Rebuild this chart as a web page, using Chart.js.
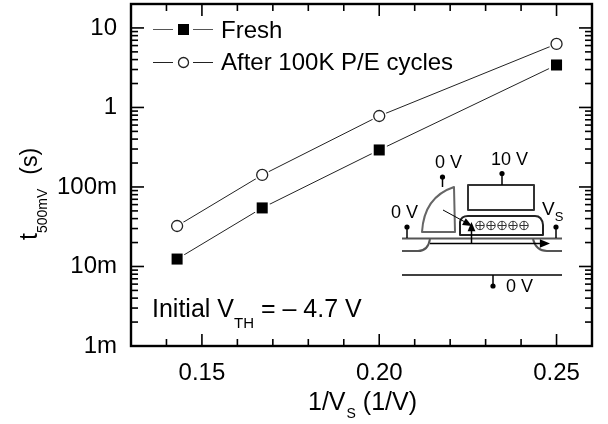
<!DOCTYPE html>
<html>
<head>
<meta charset="utf-8">
<style>
html,body{margin:0;padding:0;background:#fff;}
#wrap{position:relative;width:608px;height:424px;}
</style>
<script src="https://cdn.jsdelivr.net/npm/chart.js@4"></script>
</head>
<body>
<div id="wrap"><canvas id="chart" width="608" height="424"></canvas></div>
<script>
const invVs = [0.143, 0.167, 0.2, 0.25];
const fresh = [0.0124, 0.0545, 0.292, 3.42];
const cycled = [0.0323, 0.1416, 0.781, 6.29];
const xTicks = [0.15, 0.2, 0.25];
const xTickLabels = ["0.15", "0.20", "0.25"];
const xMinor = [0.14, 0.16, 0.17, 0.18, 0.19, 0.21, 0.22, 0.23, 0.24];
const yTicks = [0.001, 0.01, 0.1, 1, 10];
const yTickLabels = ["1m", "10m", "100m", "1", "10"];
const yMinorSteps = [2, 3, 4, 5, 6, 7, 8, 9];
const seriesNames = ["Fresh", "After 100K P/E cycles"];

const FONT = '"Liberation Sans", Arial, sans-serif';
const INK = "#000";
const PLOT_TOP = 4;

function pts(ys) {
  return invVs.map((x, i) => ({x: x, y: ys[i]}));
}

function txt(ctx, s, x, y, size, align) {
  ctx.font = size + "px " + FONT;
  ctx.textAlign = align || "left";
  ctx.textBaseline = "alphabetic";
  ctx.fillStyle = INK;
  ctx.fillText(s, x, y);
  return ctx.measureText(s).width;
}

function seg(ctx, x1, y1, x2, y2) {
  ctx.beginPath();
  ctx.moveTo(x1, y1);
  ctx.lineTo(x2, y2);
  ctx.stroke();
}

function pin(ctx, x, y1, y2) {
  ctx.strokeStyle = INK;
  ctx.lineWidth = 1.5;
  seg(ctx, x, y1, x, y2);
  ctx.fillStyle = INK;
  ctx.beginPath();
  ctx.arc(x, y1, 2.6, 0, Math.PI * 2);
  ctx.fill();
}

function arrowHead(ctx, x, y, ang, len) {
  ctx.fillStyle = INK;
  ctx.beginPath();
  ctx.moveTo(x, y);
  ctx.lineTo(x - len * Math.cos(ang - 0.4), y - len * Math.sin(ang - 0.4));
  ctx.lineTo(x - len * Math.cos(ang + 0.4), y - len * Math.sin(ang + 0.4));
  ctx.closePath();
  ctx.fill();
}

// layout keeps some room above the y scale, take it back
const plotTop = {
  id: "plotTop",
  afterLayout(chart) {
    const ys = chart.scales.y;
    const a = chart.chartArea;
    ys.top = PLOT_TOP;
    ys.height = ys.bottom - PLOT_TOP;
    ys.configure();
    a.top = PLOT_TOP;
    a.height = a.bottom - PLOT_TOP;
  }
};

// frame and the inward tick marks, all placed with the chart's scales
const frameTicks = {
  id: "frameTicks",
  afterDraw(chart) {
    const ctx = chart.ctx;
    const a = chart.chartArea;
    const xs = chart.scales.x;
    const ys = chart.scales.y;
    ctx.save();
    ctx.strokeStyle = INK;
    ctx.lineWidth = 2.4;
    ctx.strokeRect(a.left, a.top, a.right - a.left, a.bottom - a.top);
    ctx.lineWidth = 1.6;
    xTicks.forEach(v => {
      const p = xs.getPixelForValue(v);
      seg(ctx, p, a.bottom, p, a.bottom - 12);
      seg(ctx, p, a.top, p, a.top + 12);
    });
    xMinor.forEach(v => {
      const p = xs.getPixelForValue(v);
      seg(ctx, p, a.bottom, p, a.bottom - 7);
      seg(ctx, p, a.top, p, a.top + 7);
    });
    yTicks.forEach(v => {
      const p = ys.getPixelForValue(v);
      seg(ctx, a.left, p, a.left + 13, p);
      seg(ctx, a.right, p, a.right - 13, p);
    });
    yTicks.forEach(d => yMinorSteps.forEach(m => {
      if (d * m <= ys.max) {
        const p = ys.getPixelForValue(d * m);
        seg(ctx, a.left, p, a.left + 7, p);
        seg(ctx, a.right, p, a.right - 7, p);
      }
    }));
    ctx.restore();
  }
};

// legend, axis titles with subscripts, note and the device sketch
const extras = {
  id: "extras",
  afterDraw(chart) {
    const ctx = chart.ctx;
    ctx.save();

    // legend
    ctx.strokeStyle = "#555";
    ctx.lineWidth = 1;
    seg(ctx, 153, 29.5, 173, 29.5);
    seg(ctx, 193, 29.5, 213, 29.5);
    ctx.strokeStyle = "#222";
    seg(ctx, 153, 62.5, 173, 62.5);
    seg(ctx, 193, 62.5, 213, 62.5);
    ctx.fillStyle = "#000";
    ctx.fillRect(178, 24, 11, 11);
    ctx.strokeStyle = "#222";
    ctx.lineWidth = 1.3;
    ctx.beginPath();
    ctx.arc(183.5, 62.5, 5, 0, Math.PI * 2);
    ctx.stroke();
    txt(ctx, seriesNames[0], 221, 38, 24);
    txt(ctx, seriesNames[1], 221, 70, 24);

    // note
    let nx = 152;
    nx += txt(ctx, "Initial V", nx, 317, 25);
    nx += txt(ctx, "TH", nx, 328, 15);
    txt(ctx, " = – 4.7 V", nx, 317, 25);

    // x title
    let tx = 308;
    tx += txt(ctx, "1/V", tx, 410, 25);
    tx += txt(ctx, "S", tx + 1, 418, 14) + 1;
    txt(ctx, " (1/V)", tx, 410, 25);

    // y title
    ctx.save();
    ctx.translate(37, 240);
    ctx.rotate(-Math.PI / 2);
    let ty = 0;
    ty += txt(ctx, "t", ty, 0, 25);
    ty += txt(ctx, "500mV", ty, 10, 14);
    txt(ctx, "(s)", ty + 14, 0, 23);
    ctx.restore();

    // device sketch
    ctx.lineJoin = "round";
    ctx.strokeStyle = "#666";
    ctx.lineWidth = 2;
    ctx.beginPath();
    ctx.moveTo(422, 232);
    ctx.quadraticCurveTo(424, 197, 454, 187);
    ctx.lineTo(455, 232);
    ctx.closePath();
    ctx.stroke();
    ctx.strokeStyle = "#333";
    ctx.strokeRect(468, 185, 66, 25);

    ctx.strokeStyle = "#222";
    ctx.lineWidth = 2;
    ctx.beginPath();
    ctx.moveTo(460, 235);
    ctx.lineTo(460, 222);
    ctx.quadraticCurveTo(461, 216, 468, 216);
    ctx.lineTo(535, 216);
    ctx.quadraticCurveTo(542, 216, 543, 225);
    ctx.lineTo(543, 235);
    ctx.closePath();
    ctx.stroke();

    ctx.strokeStyle = "#333";
    ctx.lineWidth = 1;
    [480, 491, 502, 513, 524].forEach(cx => {
      ctx.beginPath();
      ctx.arc(cx, 225.5, 4.2, 0, Math.PI * 2);
      ctx.moveTo(cx - 4.2, 225.5);
      ctx.lineTo(cx + 4.2, 225.5);
      ctx.moveTo(cx, 221.3);
      ctx.lineTo(cx, 229.7);
      ctx.stroke();
    });

    ctx.strokeStyle = "#555";
    ctx.lineWidth = 2;
    seg(ctx, 402, 238.5, 562, 238.5);
    ctx.beginPath();
    ctx.moveTo(402, 251);
    ctx.lineTo(418, 251);
    ctx.quadraticCurveTo(428, 251, 430, 239);
    ctx.stroke();
    ctx.beginPath();
    ctx.moveTo(533, 239);
    ctx.quadraticCurveTo(536, 251, 547, 251);
    ctx.lineTo(562, 251);
    ctx.stroke();

    ctx.strokeStyle = INK;
    ctx.lineWidth = 1.5;
    seg(ctx, 430, 243.5, 540, 243.5);
    arrowHead(ctx, 550, 243.5, 0, 11);
    seg(ctx, 471.5, 243, 471.5, 230);
    arrowHead(ctx, 471.5, 222, -Math.PI / 2, 10);
    ctx.lineWidth = 1;
    seg(ctx, 443, 210, 465, 222);
    arrowHead(ctx, 472, 226, 0.5, 10);

    ctx.strokeStyle = INK;
    ctx.lineWidth = 1.5;
    seg(ctx, 402, 275, 562, 275);
    pin(ctx, 442.5, 177, 187);
    pin(ctx, 502, 173.5, 185);
    pin(ctx, 407, 227, 238);
    pin(ctx, 556, 227, 238);
    pin(ctx, 493, 286, 275);

    txt(ctx, "0 V", 435, 168, 18);
    txt(ctx, "10 V", 491, 165, 18);
    txt(ctx, "0 V", 391, 218, 18);
    let vx = 542;
    vx += txt(ctx, "V", vx, 215, 19);
    txt(ctx, "S", vx, 221, 13);
    txt(ctx, "0 V", 506, 292, 18);

    ctx.restore();
  }
};

new Chart(document.getElementById("chart"), {
  type: "line",
  data: {
    datasets: [
      {data: pts(fresh), pointStyle: "rect", pointRadius: 7.8, pointBackgroundColor: "#000", pointBorderWidth: 0, showLine: false},
      {data: pts(fresh), borderColor: "#222", borderWidth: 1, pointRadius: 8.5, pointBackgroundColor: "#fff", pointBorderWidth: 0},
      {data: pts(cycled), pointStyle: "circle", pointRadius: 5.5, pointBackgroundColor: "#fff", pointBorderColor: "#222", pointBorderWidth: 1.3, showLine: false},
      {data: pts(cycled), borderColor: "#222", borderWidth: 1, pointRadius: 7.5, pointBackgroundColor: "#fff", pointBorderWidth: 0}
    ]
  },
  options: {
    responsive: false,
    animation: false,
    layout: {padding: {top: 1, right: 16, left: 0, bottom: 0}},
    plugins: {legend: {display: false}, tooltip: {enabled: false}},
    scales: {
      x: {
        type: "linear",
        min: 0.13,
        max: 0.26,
        grid: {display: false},
        border: {display: false},
        afterFit(scale) { scale.height = 78; scale.paddingLeft = 0; scale.paddingRight = 0; },
        afterBuildTicks(scale) { scale.ticks = xTicks.map(v => ({value: v})); },
        ticks: {
          autoSkip: false,
          maxRotation: 0,
          padding: 5,
          color: INK,
          font: {family: FONT, size: 24},
          callback: v => xTickLabels[xTicks.indexOf(v)]
        }
      },
      y: {
        type: "logarithmic",
        min: 0.001,
        max: 20,
        grid: {display: false},
        border: {display: false},
        afterFit(scale) { scale.width = 131; scale.paddingTop = 0; scale.paddingBottom = 0; },
        afterBuildTicks(scale) { scale.ticks = yTicks.map(v => ({value: v})); },
        ticks: {
          autoSkip: false,
          padding: 6,
          color: INK,
          font: {family: FONT, size: 24},
          callback: v => yTickLabels[yTicks.indexOf(v)]
        }
      }
    }
  },
  plugins: [plotTop, frameTicks, extras]
});
</script>
</body>
</html>
